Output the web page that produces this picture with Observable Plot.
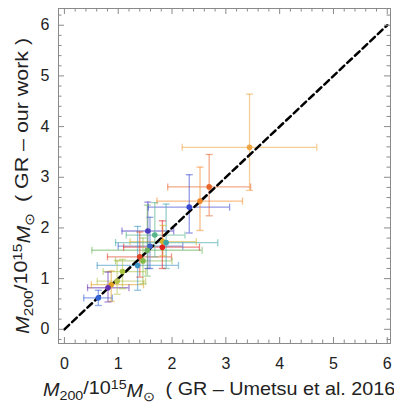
<!DOCTYPE html>
<html>
<head>
<meta charset="utf-8">
<script src="https://cdn.jsdelivr.net/npm/d3@7"></script>
<script src="https://cdn.jsdelivr.net/npm/@observablehq/plot@0.6"></script>
<style>
  html, body { margin: 0; padding: 0; background: #fff; }
  #chart { width: 394px; height: 406px; overflow: hidden; }
</style>
</head>
<body>
<div id="chart"></div>
<script>
// Cluster masses: x = Umetsu et al. 2016, y = our work (units of 10^15 Msun)
const xVal = [3.44, 2.69, 2.52, 2.32, 1.55, 1.68, 1.59, 1.83, 1.89, 1.82, 1.54, 1.40, 1.46, 1.36, 1.08, 0.98, 0.87, 0.81, 0.63];
const xLo  = [2.19, 1.92, 1.72, 1.56, 1.07, 1.15, 1.00, 1.22, 0.95, 1.10, 0.51, 0.80, 0.95, 0.61, 0.72, 0.61, 0.50, 0.43, 0.36];
const xHi  = [4.69, 3.46, 3.31, 3.07, 2.03, 2.24, 2.20, 2.45, 2.85, 2.51, 2.56, 1.99, 2.00, 2.12, 1.51, 1.51, 1.47, 1.20, 0.89];
const yVal = [3.59, 2.81, 2.53, 2.41, 1.94, 1.86, 1.64, 1.73, 1.71, 1.62, 1.56, 1.43, 1.35, 1.26, 1.14, 0.95, 0.88, 0.82, 0.62];
const yLo  = [2.74, 2.24, 1.95, 1.90, 1.20, 1.43, 1.20, 1.45, 1.20, 1.20, 1.05, 1.03, 0.90, 0.77, 0.80, 0.69, 0.55, 0.54, 0.47];
const yHi  = [4.64, 3.45, 3.20, 3.05, 2.51, 2.50, 2.21, 2.05, 2.47, 2.14, 2.45, 1.92, 1.80, 2.03, 1.38, 1.36, 1.15, 1.13, 0.77];
const colors = ["#eea541","#e8652a","#f0882a","#3a48d0","#4a3cc0","#58b48a","#3e64c8","#d4b028","#3ea6a8","#e0221e","#6cb45c","#e04424","#84b848","#3c94c4","#a8c440","#b8c24c","#e0a020","#6430b0","#3464d8"];

// one-to-one reference line
const diagonal = [0, 6];
const majorTicks = [0, 1, 2, 3, 4, 5, 6];

const data = xVal.map((x, i) => ({
  x, xlo: xLo[i], xhi: xHi[i], y: yVal[i], ylo: yLo[i], yhi: yHi[i], c: colors[i]
}));
const diag = diagonal.map(v => ({x: v, y: v}));

const xDomain = [-0.11, 6.06];
const yDomain = [-0.28, 6.33];
const W = 394, H = 406, mL = 58, mR = 4, mT = 8, mB = 63;
const innerH = H - mT - mB, innerW = W - mL - mR;

const xMinor = d3.range(0, 6.001, 0.2).map(v => +v.toFixed(1)).filter(v => v >= xDomain[0] && v <= xDomain[1] && !majorTicks.includes(v));
const yMinor = d3.range(-0.2, 6.301, 0.2).map(v => +v.toFixed(1)).filter(v => v >= yDomain[0] && v <= yDomain[1] && !majorTicks.includes(v));

const hCap = { draw(ctx, size) { const r = Math.sqrt(size / Math.PI); ctx.moveTo(-r, 0); ctx.lineTo(r, 0); } };
const vCap = { draw(ctx, size) { const r = Math.sqrt(size / Math.PI); ctx.moveTo(0, -r); ctx.lineTo(0, r); } };

const tickColor = "#8a8a8a";
const majLen = 6, minLen = 3.5;
const barOpacity = 0.55;

const plot = Plot.plot({
  width: W, height: H,
  marginLeft: mL, marginRight: mR, marginTop: mT, marginBottom: mB,
  x: { domain: xDomain, ticks: majorTicks },
  y: { domain: yDomain, ticks: majorTicks },
  style: { fontFamily: "'Liberation Sans', Arial, sans-serif", fontSize: "16px", color: "#222", background: "white", overflow: "hidden" },
  marks: [
    // error bars
    Plot.ruleY(data, { y: "y", x1: "xlo", x2: "xhi", stroke: "c", strokeWidth: 1.3, strokeOpacity: barOpacity }),
    Plot.ruleX(data, { x: "x", y1: "ylo", y2: "yhi", stroke: "c", strokeWidth: 1.3, strokeOpacity: barOpacity }),
    Plot.dot(data, { x: "xlo", y: "y", symbol: vCap, r: 3.5, stroke: "c", fill: "none", strokeWidth: 1.3, strokeOpacity: barOpacity }),
    Plot.dot(data, { x: "xhi", y: "y", symbol: vCap, r: 3.5, stroke: "c", fill: "none", strokeWidth: 1.3, strokeOpacity: barOpacity }),
    Plot.dot(data, { x: "x", y: "ylo", symbol: hCap, r: 3.5, stroke: "c", fill: "none", strokeWidth: 1.3, strokeOpacity: barOpacity }),
    Plot.dot(data, { x: "x", y: "yhi", symbol: hCap, r: 3.5, stroke: "c", fill: "none", strokeWidth: 1.3, strokeOpacity: barOpacity }),
    // 1:1 line
    Plot.line(diag, { x: "x", y: "y", stroke: "black", strokeWidth: 2.5, strokeDasharray: "6.5,4" }),
    // points
    Plot.dot(data, { x: "x", y: "y", fill: "c", r: 2.8, stroke: "none" }),
    // frame
    Plot.frame({ stroke: tickColor, strokeWidth: 1 }),
    // inward ticks, bottom / top
    Plot.tickX(majorTicks, { x: d => d, insetTop: innerH - majLen, stroke: tickColor }),
    Plot.tickX(xMinor, { x: d => d, insetTop: innerH - minLen, stroke: tickColor }),
    Plot.tickX(majorTicks, { x: d => d, insetBottom: innerH - majLen, stroke: tickColor }),
    Plot.tickX(xMinor, { x: d => d, insetBottom: innerH - minLen, stroke: tickColor }),
    // inward ticks, left / right
    Plot.tickY(majorTicks, { y: d => d, insetRight: innerW - majLen, stroke: tickColor }),
    Plot.tickY(yMinor, { y: d => d, insetRight: innerW - minLen, stroke: tickColor }),
    Plot.tickY(majorTicks, { y: d => d, insetLeft: innerW - majLen, stroke: tickColor }),
    Plot.tickY(yMinor, { y: d => d, insetLeft: innerW - minLen, stroke: tickColor }),
    // tick labels
    Plot.axisX({ ticks: majorTicks, tickSize: 0, tickPadding: 14, label: null, tickFormat: d => String(d), fill: "#222" }),
    Plot.axisY({ ticks: majorTicks, tickSize: 0, tickPadding: 9, label: null, tickFormat: d => String(d), fill: "#222" })
  ]
});

document.getElementById("chart").appendChild(plot);

// axis titles with italic / sub / superscripts
const svg = d3.select(plot);
function massLabel(sel, suffix) {
  sel.append("tspan").attr("font-style", "italic").text("M");
  sel.append("tspan").attr("dy", "0.3em").attr("font-size", "0.72em").text("200");
  sel.append("tspan").attr("dy", "-0.3em").text("/10");
  sel.append("tspan").attr("dy", "-0.45em").attr("font-size", "0.72em").text("15");
  sel.append("tspan").attr("dy", "0.45em").attr("font-style", "italic").text("M");
  sel.append("tspan").attr("dy", "0.3em").attr("font-size", "0.72em").text("\u2299");
  sel.append("tspan").attr("dy", "-0.3em").text("\u2002( GR \u2013 " + suffix + " )");
}
const xt = svg.append("text")
  .attr("transform", "translate(43,396) scale(1.1,1)")
  .attr("text-anchor", "start")
  .attr("font-size", 18).attr("fill", "#222")
  .attr("font-family", "'Liberation Sans', Arial, sans-serif");
massLabel(xt, "Umetsu et al. 2016");

const yt = svg.append("text")
  .attr("transform", "translate(29,334) rotate(-90) scale(1.19,1)")
  .attr("text-anchor", "start")
  .attr("font-size", 18).attr("fill", "#222")
  .attr("font-family", "'Liberation Sans', Arial, sans-serif");
massLabel(yt, "our work");
</script>
</body>
</html>
